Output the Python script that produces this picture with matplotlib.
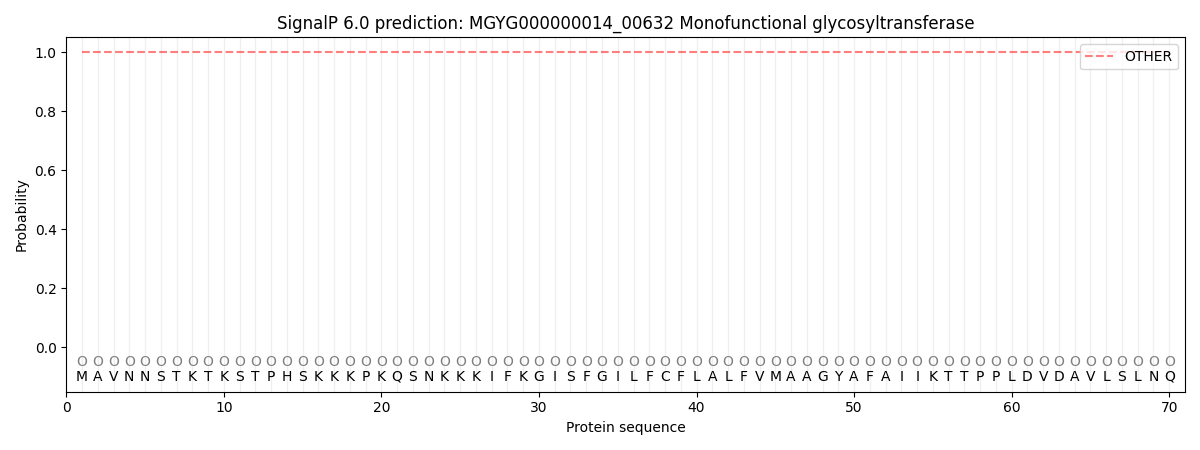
import numpy as np
import matplotlib
matplotlib.use("Agg")
import matplotlib.pyplot as plt

sequence = "MAVNNSTKTKSTPHSKKKPKQSNKKKIFKGISFGILFCFLALFVMAAGYAFAIIKTTPPLDVDAVLSLNQ"
labels = ["O"] * len(sequence)
prob_other = [1.0] * len(sequence)
title = "SignalP 6.0 prediction: MGYG000000014_00632 Monofunctional glycosyltransferase"

positions = np.arange(1, len(sequence) + 1)

fig, ax = plt.subplots(figsize=(12, 4.5), dpi=100)

for p in positions:
    ax.axvline(p, color="lightgrey", alpha=0.35, linewidth=1, zorder=0)

ax.plot(positions, prob_other, linestyle="--", color="red", alpha=0.5,
        label="OTHER")

for p, aa, lab in zip(positions, sequence, labels):
    ax.text(p, -0.05, lab, ha="center", va="center", color="grey",
            fontsize=10)
    ax.text(p, -0.1, aa, ha="center", va="center", color="black",
            fontsize=10)

ax.set_xlim(0, len(sequence) + 1)
ax.set_ylim(-0.15, 1.05)
ax.set_xlabel("Protein sequence")
ax.set_ylabel("Probability")
ax.set_title(title)
ax.legend(loc="upper right")

fig.tight_layout()
fig.savefig("out.png")
